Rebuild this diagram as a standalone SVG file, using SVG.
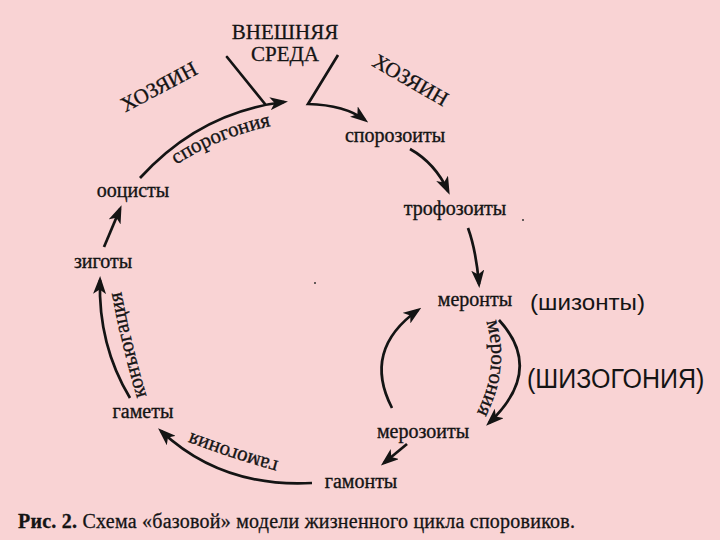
<svg xmlns="http://www.w3.org/2000/svg" width="720" height="540" viewBox="0 0 720 540">
<style>
.bg{fill:#f9d3d4}
.lbl{font-family:"Liberation Serif","DejaVu Serif",serif;font-size:20px;fill:#141414;stroke:#141414;stroke-width:0.35;text-anchor:middle}
.cap{font-family:"Liberation Serif","DejaVu Serif",serif;font-size:21px;fill:#141414;stroke:#141414;stroke-width:0.3;text-anchor:middle}
.cur{font-family:"Liberation Serif","DejaVu Serif",serif;font-size:21px;fill:#141414;stroke:#141414;stroke-width:0.35}
.sans{font-family:"Liberation Sans",Arial,sans-serif;fill:#141414}
.ln{fill:none;stroke:#141414;stroke-width:2.7;stroke-linecap:round}
.ar{fill:none;stroke:#141414;stroke-width:2.7;marker-end:url(#ah)}
</style>
<defs>
<marker id="ah" markerUnits="userSpaceOnUse" viewBox="0 0 18 13" refX="14" refY="6.5" markerWidth="18" markerHeight="13" orient="auto">
<path d="M0,0 L18,6.5 L0,13 L4.5,6.5 z" fill="#141414"/>
</marker>
<path id="pSporo" d="M 163,174 Q 215,135 287,123"/>
<path id="pMero" d="M 484,314 Q 503,368 473,420"/>
<path id="pGamo" d="M 294,465 Q 240,452 176,427"/>
<path id="pKonj" d="M 147,398 Q 130,340 121,290"/>
</defs>
<rect class="bg" x="0" y="0" width="720" height="540"/>

<g id="connectors">
<line class="ln" x1="227" y1="57" x2="265" y2="104"/>
<path class="ar" d="M 140,178 Q 200,112 284,102"/>
<path class="ar" d="M 338,55 L 308,104 Q 345,105 365,120"/>
<path class="ar" d="M 410,149 Q 435,163 448,191"/>
<path class="ar" d="M 468,228 Q 476,250 479,284"/>
<path class="ar" d="M 499,320 Q 545,370 489,423"/>
<path class="ar" d="M 392,408 Q 362,350 418,310"/>
<path class="ar" d="M 407,444 L 384,463"/>
<path class="ar" d="M 312,483 Q 222,488 161,431"/>
<path class="ar" d="M 130,398 Q 98,345 100,280"/>
<path class="ar" d="M 104,247 L 120,209"/>
<circle cx="523" cy="220" r="1" fill="#333"/>
<circle cx="315" cy="283" r="1" fill="#333"/>
</g>

<g id="env">
<text class="cap" x="285" y="39">ВНЕШНЯЯ</text>
<text class="cap" x="285" y="61">СРЕДА</text>
</g>
<g id="host-left"><text class="cap" x="162" y="93" transform="rotate(-28 162 93)">ХОЗЯИН</text></g>
<g id="host-right"><text class="cap" x="407" y="86" transform="rotate(30 407 86)">ХОЗЯИН</text></g>

<g id="sporozoity"><text class="lbl" x="395" y="142">спорозоиты</text></g>
<g id="trofozoity"><text class="lbl" x="455" y="215">трофозоиты</text></g>
<g id="meronty"><text class="lbl" x="475" y="306">меронты</text>
<text class="sans" x="530" y="310" style="font-size:22px" textLength="115" lengthAdjust="spacingAndGlyphs">(шизонты)</text></g>
<g id="merozoity"><text class="lbl" x="423" y="438">мерозоиты</text></g>
<g id="gamonty"><text class="lbl" x="361" y="488">гамонты</text></g>
<g id="gamety"><text class="lbl" x="143" y="418">гаметы</text></g>
<g id="zigoty"><text class="lbl" x="103" y="268">зиготы</text></g>
<g id="oocysty"><text class="lbl" x="133" y="197">ооцисты</text></g>

<g id="process-labels">
<text class="cur"><textPath href="#pSporo" startOffset="50%" text-anchor="middle">спорогония</textPath></text>
<text class="cur"><textPath href="#pMero" startOffset="50%" text-anchor="middle">мерогония</textPath></text>
<text class="cur"><textPath href="#pGamo" startOffset="50%" text-anchor="middle">гамогония</textPath></text>
<text class="cur"><textPath href="#pKonj" startOffset="50%" text-anchor="middle">конъюгация</textPath></text>
<text class="sans" x="0" y="0" transform="translate(527 388) scale(1 1.12)" style="font-size:25px">(ШИЗОГОНИЯ)</text>
</g>

<g id="caption">
<text x="18" y="528" textLength="557" style="font-family:'Liberation Serif','DejaVu Serif',serif;font-size:20px;fill:#141414;stroke:#141414;stroke-width:0.3"><tspan font-weight="bold">Рис. 2.</tspan> Схема «базовой» модели жизненного цикла споровиков.</text>
</g>
</svg>
